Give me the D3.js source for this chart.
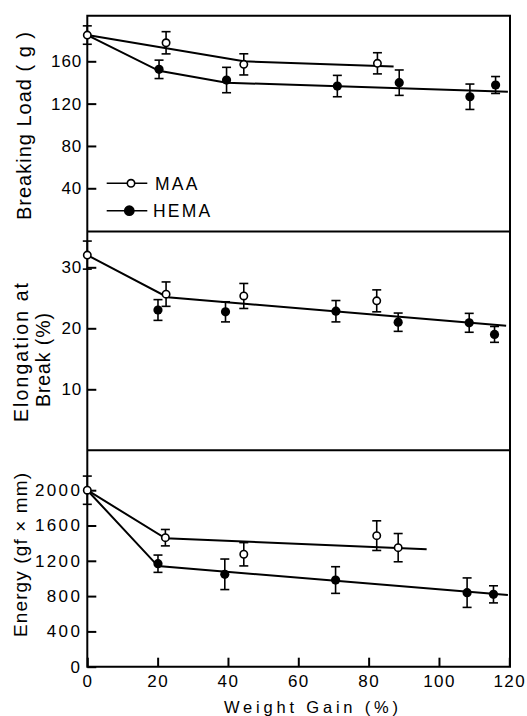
<!DOCTYPE html>
<html><head><meta charset="utf-8">
<script src="https://cdn.jsdelivr.net/npm/d3@7"></script>
<style>body{margin:0;background:#fff}svg{display:block}text{font-family:"Liberation Sans",Arial,sans-serif;fill:#000}</style>
</head><body>
<svg id="c" width="527" height="716"></svg>
<script>
// ---- data (x = weight gain %, y = value, e = error half-width) ----
const xTicks = [0, 20, 40, 60, 80, 100, 120];
const loadTicks = [40, 80, 120, 160];
const elongTicks = [10, 20, 30];
const energyTicks = [0, 400, 800, 1200, 1600, 2000];
const seriesNames = ["MAA", "HEMA"];

const loadMAA = [[0,184.8,8.7],[22.4,177.5,10.5],[44.5,157.1,10],[82.5,158.1,10]];
const loadHEMA = [[20.4,152.4,8.7],[39.6,142.3,12],[71.1,136.6,10.1],[88.7,139.8,12],[108.8,126.5,12],[116.1,137.6,8]];
const loadMaaFit = [[0,184.8],[44.5,160],[87.1,155]];
const loadHemaFit = [[0,184.8],[20.4,151],[39.6,139.8],[119.6,131.2]];

const elongMAA = [[0,32.0,2.3],[22.4,25.6,2],[44.5,25.3,2.05],[82.3,24.5,1.8]];
const elongHEMA = [[20.1,23.0,1.7],[39.3,22.7,1.65],[70.7,22.8,1.75],[88.4,21.0,1.5],[108.6,20.9,1.55],[115.8,19.0,1.3]];
const elongFit = [[0,32.0],[22.8,25.1],[119.1,20.4]];

const energyMAA = [[0,2000,160],[22.2,1462,93],[44.5,1274,132],[82.3,1485,168],[88.4,1349,160]];
const energyHEMA = [[20.1,1167,98],[39.1,1047,173],[70.6,982,151],[108,839,167],[115.5,820,97]];
const energyMaaFit = [[0,2000],[22.2,1455],[96.5,1330]];
const energyHemaFit = [[0,2000],[20.1,1140],[119.6,812]];

// ---- layout ----
const svg = d3.select("#c");
const L = 87.3, R = 510;
const x = d3.scaleLinear().domain([0,120]).range([87.3, 509.3]);

const panels = [
  { y: d3.scaleLinear().domain([0,160]).range([230.6,61.3]), ticks: loadTicks, ls: 1,
    open: loadMAA, filled: loadHEMA, fits: [loadMaaFit, loadHemaFit] },
  { y: d3.scaleLinear().domain([0,30]).range([450.3,267.3]), ticks: elongTicks, ls: 1,
    open: elongMAA, filled: elongHEMA, fits: [elongFit] },
  { y: d3.scaleLinear().domain([0,2000]).range([666.7,490.2]), ticks: energyTicks, ls: 2.4,
    open: energyMAA, filled: energyHEMA, fits: [energyMaaFit, energyHemaFit] }
];

// frame
const frame = svg.append("g").attr("stroke","#000").attr("stroke-width",2).attr("fill","none");
frame.append("path").attr("d", `M${L},15.7 H${R} V666.7 H${L} Z`);
frame.append("line").attr("x1",L).attr("x2",R).attr("y1",231.5).attr("y2",231.5);
frame.append("line").attr("x1",L).attr("x2",R).attr("y1",450.3).attr("y2",450.3);

const line = d3.line().x(d => x(d[0]));

panels.forEach(p => {
  const ax = svg.append("g").attr("transform",`translate(${L},0)`)
    .call(d3.axisLeft(p.y).tickValues(p.ticks).tickSize(-9).tickPadding(5).tickFormat(d3.format("d")));
  ax.select(".domain").remove();
  ax.selectAll(".tick line").attr("stroke","#000").attr("stroke-width",2);
  ax.selectAll(".tick text").attr("font-size",17).attr("letter-spacing",p.ls).attr("fill","#000");

  const g = svg.append("g");
  line.y(d => p.y(d[1]));
  p.fits.forEach(f => g.append("path").attr("d", line(f)).attr("fill","none")
    .attr("stroke","#000").attr("stroke-width",2));

  const all = p.open.concat(p.filled);
  const eb = g.append("g").attr("stroke","#000").attr("stroke-width",1.6);
  all.forEach(d => {
    const cx = x(d[0]), y1 = p.y(d[1]-d[2]), y2 = p.y(d[1]+d[2]);
    eb.append("line").attr("x1",cx).attr("x2",cx).attr("y1",y1).attr("y2",y2);
    eb.append("line").attr("x1",cx-4.5).attr("x2",cx+4.5).attr("y1",y1).attr("y2",y1);
    eb.append("line").attr("x1",cx-4.5).attr("x2",cx+4.5).attr("y1",y2).attr("y2",y2);
  });
  g.selectAll("circle.f").data(p.filled).join("circle").attr("class","f")
    .attr("cx", d => x(d[0])).attr("cy", d => p.y(d[1])).attr("r",4.6).attr("fill","#000");
  g.selectAll("circle.o").data(p.open).join("circle").attr("class","o")
    .attr("cx", d => x(d[0])).attr("cy", d => p.y(d[1])).attr("r",3.7)
    .attr("fill","#fff").attr("stroke","#000").attr("stroke-width",1.6);
});

// x axis
const xa = svg.append("g").attr("transform","translate(0,666.7)")
  .call(d3.axisBottom(x).tickValues(xTicks).tickSize(-9).tickPadding(8.3).tickFormat(d3.format("d")));
xa.select(".domain").remove();
xa.selectAll(".tick line").attr("stroke","#000").attr("stroke-width",2);
xa.selectAll(".tick text").attr("font-size",17).attr("letter-spacing",1.4).attr("fill","#000");

// titles
function vtitle(txt, cy, bx, fs, len) {
  svg.append("text").attr("transform","rotate(-90)")
    .attr("x",-cy).attr("y",bx).attr("text-anchor","middle")
    .attr("font-size",fs).attr("textLength",len).attr("lengthAdjust","spacing")
    .text(txt);
}
vtitle("Breaking Load ( g )", 126, 31, 20, 188);
vtitle("Elongation at", 352.5, 28.3, 19.5, 139);
vtitle("Break  (%)", 360, 50, 19.5, 94);
vtitle("Energy (gf × mm)", 555, 27, 19, 164);

svg.append("text").attr("x",224).attr("y",713).attr("font-size",16.5)
  .attr("textLength",174).attr("lengthAdjust","spacing").text("Weight  Gain (%)");

// legend
const leg = svg.append("g");
[[183.3,131,false],[210.7,129.3,true]].forEach((r,i) => {
  leg.append("line").attr("x1",106.7).attr("x2",147.3).attr("y1",r[0]).attr("y2",r[0])
    .attr("stroke","#000").attr("stroke-width",1.6);
  leg.append("circle").attr("cx",r[1]).attr("cy",r[0]).attr("r", r[2]?4.6:3.7)
    .attr("fill", r[2]?"#000":"#fff").attr("stroke","#000").attr("stroke-width",1.6);
  leg.append("text").attr("x", i===0?155:153).attr("y", r[0]+6.3).attr("font-size",17.5)
    .attr("letter-spacing",2.2).text(seriesNames[i]);
});
</script>
</body></html>
